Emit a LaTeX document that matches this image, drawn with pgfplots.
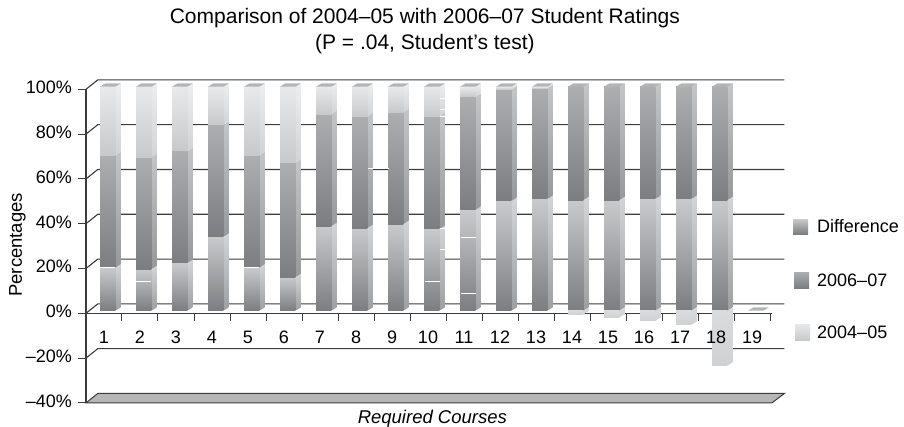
\documentclass[border=0pt]{standalone}
\usepackage{fontspec}
\setmainfont{Liberation Sans}
\usepackage{pgfplots}
\usepackage{pgfplotstable}
\pgfplotsset{compat=1.18}

% colours, t = top of gradient, b = bottom
\definecolor{difft}{HTML}{C9CACC}
\definecolor{diffb}{HTML}{7C7D80}
\definecolor{diffst}{HTML}{D4D5D6}
\definecolor{diffsb}{HTML}{9D9EA0}
\definecolor{midt}{HTML}{ADAEB0}
\definecolor{midb}{HTML}{7C7D80}
\definecolor{midst}{HTML}{C4C5C7}
\definecolor{midsb}{HTML}{97989A}
\definecolor{oldt}{HTML}{E8E9EA}
\definecolor{oldb}{HTML}{C8C9CB}
\definecolor{oldst}{HTML}{EDEEEF}
\definecolor{oldsb}{HTML}{D2D3D4}
\definecolor{negt}{HTML}{DADBDC}
\definecolor{negb}{HTML}{D0D1D2}
\definecolor{topface}{HTML}{B4B5B6}
\definecolor{gridc}{HTML}{3C3C3C}
\definecolor{floorc}{HTML}{B6B6B6}

\pgfplotstableread{
course diff  mid   old
1      19.3  50.2  30.5
2      18.6  50.0  31.4
3      21.3  50.0  28.7
4      33.0  50.0  17.0
5      19.3  50.2  30.5
6      15.0  51.0  34.0
7      37.8  50.0  12.2
8      36.9  50.0  13.1
9      38.7  50.0  11.3
10     36.5  50.4  13.1
11     45.0  50.5  4.5
12     49.0  49.8  1.2
13     49.9  49.4  0.7
14     49.4  50.6  -1.6
15     49.4  50.6  -3.0
16     49.9  50.1  -4.5
17     49.9  50.1  -6.3
18     49.4  50.6  -24.5
19     0     0     0
}\ratings

% one block of a bar: column, from, to, front top/bottom, side top/bottom
\newcommand\barseg[7]{%
  \pgfmathsetmacro\xa{#1+0.389}%
  \pgfmathsetmacro\xb{#1+0.819}%
  \pgfmathsetmacro\xc{#1+0.966}%
  \pgfmathsetmacro\ylo{#2+1.47}%
  \pgfmathsetmacro\yhi{#3+1.47}%
  \addplot[draw=none,yshift=2.6pt,top color=#6,bottom color=#7]
    coordinates {(\xb,#2) (\xc,\ylo) (\xc,\yhi) (\xb,#3) (\xb,#2)};
  \addplot[draw=none,yshift=2.6pt,top color=#4,bottom color=#5]
    coordinates {(\xa,#2) (\xb,#2) (\xb,#3) (\xa,#3) (\xa,#2)};
}
\newcommand\bartop[1]{%
  \pgfmathsetmacro\xa{#1+0.389}%
  \pgfmathsetmacro\xb{#1+0.819}%
  \pgfmathsetmacro\xc{#1+0.966}%
  \pgfmathsetmacro\xd{#1+0.536}%
  \pgfmathsetmacro\yhi{\ytop+1.47}%
  \addplot[draw=none,yshift=2.6pt,fill=topface]
    coordinates {(\xa,\ytop) (\xb,\ytop) (\xc,\yhi) (\xd,\yhi) (\xa,\ytop)};
}
% white print flecks on the bars, page pixels
\newcommand\fleck[3]{\draw[white,line width=.7pt] (#1pt-86pt,313.3pt-#3pt) -- (#2pt-86pt,313.3pt-#3pt);}

\begin{document}
\begin{tikzpicture}
\fontsize{18}{23}\selectfont
\path[use as bounding box] (-86pt,-112.7pt) rectangle (818pt,313.3pt);
\begin{axis}[
  anchor=origin, at={(0pt,0pt)},
  x=36pt, y=2.24pt,
  xmin=0, xmax=19.05, ymin=-40, ymax=100,
  clip=false,
  axis y line*=left, axis x line*=middle,
  hide obscured x ticks=false, hide obscured y ticks=false,
  tick align=outside,
  major tick length=8pt,
  tick style={gridc,line width=1pt},
  axis line style={gridc,line width=1.1pt},
  xtick={1,...,19},
  xticklabels=\empty,
  ytick={-40,-20,0,20,40,60,80,100},
  yticklabels={–40\%,–20\%,0\%,20\%,40\%,60\%,80\%,100\%},
  typeset ticklabels with strut,
  tick label style={font=\fontsize{18}{22}\selectfont},
  /pgf/number format/assume math mode=true,
  title={Comparison of 2004–05 with 2006–07 Student Ratings\\(P = .04, Student’s test)},
  title style={align=center,font=\fontsize{21}{26}\selectfont,anchor=center,at={(axis description cs:0.4942,1.165)}},
  xlabel={Required Courses},
  xlabel style={font=\fontsize{18.5}{22}\selectfont\itshape,anchor=center,at={(axis description cs:0.505,-0.05)}},
  ylabel={Percentages},
  ylabel style={font=\fontsize{18.5}{22}\selectfont,anchor=center,rotate=0,at={(axis description cs:-0.1,0.504)}},
]
% floor and back wall
\draw[gridc,line width=1pt,fill=floorc] (axis cs:0,-40) -- (axis cs:19.05,-40) -- (axis cs:19.4,-35.8) -- (axis cs:0.325,-35.8) -- cycle;
\pgfplotsinvokeforeach{-20,0,20,40,60,80,100}{
  \draw[gridc,line width=1.1pt] (axis cs:0,#1) -- (axis cs:0.325,#1+4.2) -- (axis cs:19.4,#1+4.2);
}
\pgfplotsinvokeforeach{0,...,17}{
  \pgfplotstablegetelem{#1}{diff}\of\ratings \let\vd=\pgfplotsretval
  \pgfplotstablegetelem{#1}{mid}\of\ratings \let\vm=\pgfplotsretval
  \pgfplotstablegetelem{#1}{old}\of\ratings \let\vo=\pgfplotsretval
  \pgfmathsetmacro\ya{\vd+\vm}%
  \pgfmathsetmacro\ytop{\ya+max(\vo,0)}%
  \barseg{#1}{0}{\vd}{difft}{diffb}{diffst}{diffsb}
  \barseg{#1}{\vd}{\ya}{midt}{midb}{midst}{midsb}
  \pgfmathparse{\vo>0?1:0}%
  \ifnum\pgfmathresult=1
    \barseg{#1}{\ya}{\ytop}{oldt}{oldb}{oldst}{oldsb}
  \else
    \barseg{#1}{\vo}{0}{negt}{negb}{negt}{negb}
  \fi
  \bartop{#1}
}
% course 19 has no values, only the flat lid
\def\ytop{0}
\bartop{18}
\end{axis}
% second axis only for the course numbers, so they sit over the bars
\begin{axis}[
  anchor=origin, at={(0pt,0pt)},
  x=36pt, y=2.24pt,
  xmin=0, xmax=19.05, ymin=-40, ymax=100,
  axis y line=none, axis x line*=middle,
  x axis line style={draw=none},
  hide obscured x ticks=false,
  xtick={1,...,19},
  major tick length=0pt,
  x tick style={draw=none},
  ytick=\empty,
  xticklabel style={xshift=-18pt,yshift=-9pt,font=\fontsize{18}{22}\selectfont},
  typeset ticklabels with strut,
  /pgf/number format/assume math mode=true,
]
\addplot[draw=none] coordinates {(0,0) (19,0)};
\end{axis}
\fleck{100}{115}{267.3}
\fleck{135}{151}{281}
\fleck{244}{259}{267.3}
\fleck{368}{389}{168}
\fleck{440}{445}{98.3}
\fleck{440}{445}{109.3}
\fleck{440}{445}{116}
\fleck{440}{445}{228.7}
\fleck{440}{445}{249.3}
\fleck{425}{440}{281}
\fleck{461}{476}{237.3}
\fleck{461}{476}{293.3}
% legend
\fill[top color=difft,bottom color=diffb] (707pt,94.3pt) rectangle (722pt,79.3pt);
\fill[top color=midt,bottom color=midb] (708pt,41.3pt) rectangle (723pt,25.3pt);
\fill[top color=oldt,bottom color=oldb] (709pt,-10.7pt) rectangle (724pt,-26.7pt);
\node[anchor=west,inner sep=0pt] at (731pt,87pt) {Difference};
\node[anchor=west,inner sep=0pt] at (731pt,33pt) {2006–07};
\node[anchor=west,inner sep=0pt] at (731pt,-19pt) {2004–05};
\end{tikzpicture}
\end{document}
